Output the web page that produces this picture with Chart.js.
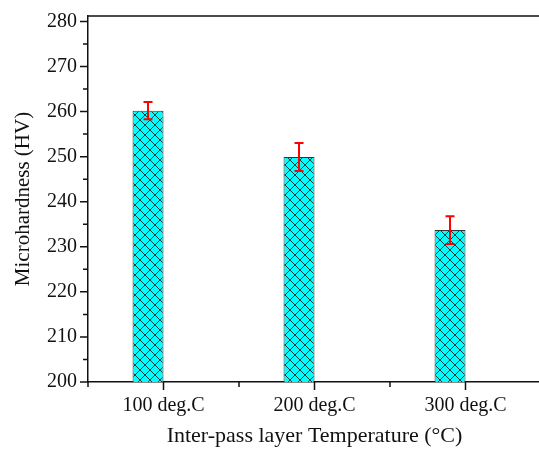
<!DOCTYPE html>
<html>
<head>
<meta charset="utf-8">
<script src="https://cdn.jsdelivr.net/npm/chart.js@4/dist/chart.umd.min.js"></script>
<style>
  html, body { margin:0; padding:0; overflow:hidden; background:#fff; }
  #wrap { width:548px; height:449px; }
</style>
</head>
<body>
<div id="wrap"><canvas id="chart"></canvas></div>
<script>
// values
const temps = ['100 deg.C', '200 deg.C', '300 deg.C'];
const hardness = [260.2, 249.9, 233.7];
const hardnessErr = [1.9, 3.1, 3.1];
const yMajor = [200, 210, 220, 230, 240, 250, 260, 270, 280];
const yMinor = [205, 215, 225, 235, 245, 255, 265, 275];

const serif = 'Liberation Serif, Times New Roman, serif';

// cyan crosshatch fill
function hatch() {
  const c = document.createElement('canvas');
  c.width = 10; c.height = 10;
  const g = c.getContext('2d');
  g.fillStyle = '#00ffff';
  g.fillRect(0, 0, 10, 10);
  g.strokeStyle = '#1b3d3d';
  g.lineWidth = 1;
  g.beginPath();
  g.moveTo(-1, -1); g.lineTo(11, 11);
  g.moveTo(-1, 11); g.lineTo(11, -1);
  g.stroke();
  return g.createPattern(c, 'repeat');
}

// red error bars on top of the bars
const errBars = {
  id: 'errBars',
  afterDatasetsDraw(chart) {
    const meta = chart.getDatasetMeta(0);
    const y = chart.scales.y;
    const ctx = chart.ctx;
    ctx.save();
    ctx.strokeStyle = '#ff0000';
    ctx.lineWidth = 2;
    meta.data.forEach((bar, i) => {
      const top = y.getPixelForValue(hardness[i] + hardnessErr[i]);
      const bot = y.getPixelForValue(hardness[i] - hardnessErr[i]);
      ctx.beginPath();
      ctx.moveTo(bar.x, top); ctx.lineTo(bar.x, bot);
      ctx.moveTo(bar.x - 4.5, top); ctx.lineTo(bar.x + 4.5, top);
      ctx.moveTo(bar.x - 4.5, bot); ctx.lineTo(bar.x + 4.5, bot);
      ctx.stroke();
    });
    ctx.restore();
  }
};

// Origin style frame: outward major/minor ticks + top border
const frame = {
  id: 'frame',
  afterDraw(chart) {
    const {ctx, chartArea: a, scales: {x, y}} = chart;
    ctx.save();
    ctx.strokeStyle = '#111';
    ctx.lineWidth = 1.5;
    ctx.beginPath();
    ctx.moveTo(a.left, a.top); ctx.lineTo(a.right, a.top);
    yMajor.forEach(v => { const p = y.getPixelForValue(v); ctx.moveTo(a.left - 8, p); ctx.lineTo(a.left, p); });
    yMinor.forEach(v => { const p = y.getPixelForValue(v); ctx.moveTo(a.left - 5, p); ctx.lineTo(a.left, p); });
    const w = (a.right - a.left) / temps.length;
    temps.forEach((t, i) => {
      const p = x.getPixelForValue(i);
      ctx.moveTo(p, a.bottom); ctx.lineTo(p, a.bottom + 8);
      const b = a.left + i * w;
      ctx.moveTo(b, a.bottom); ctx.lineTo(b, a.bottom + 5);
    });
    ctx.stroke();
    ctx.restore();
  }
};

new Chart(document.getElementById('chart'), {
  type: 'bar',
  data: {
    labels: temps,
    datasets: [
      { data: hardness, backgroundColor: hatch(), borderColor: '#333', borderWidth: 1,
        barPercentage: 1, categoryPercentage: 0.41 },
      { data: temps.map(() => null), barPercentage: 1, categoryPercentage: 0.41 }
    ]
  },
  options: {
    responsive: true,
    maintainAspectRatio: false,
    animation: false,
    layout: { padding: { left: 0, right: 7, top: 16, bottom: 0 } },
    plugins: { legend: { display: false }, tooltip: { enabled: false } },
    scales: {
      x: {
        grid: { display: false, drawTicks: false },
        border: { display: true, color: '#111', width: 1.5 },
        ticks: { color: '#111', padding: 12, maxRotation: 0, font: { family: serif, size: 20 } },
        title: { display: true, text: 'Inter-pass layer Temperature (°C)', color: '#111',
                 padding: { top: 0, bottom: 0 }, font: { family: serif, size: 22 } },
        afterFit(s) { s.height = 67; s.paddingLeft = 0; s.paddingRight = 0; }
      },
      y: {
        min: 200, max: 281.2,
        grid: { display: false, drawTicks: false },
        border: { display: true, color: '#111', width: 1.5 },
        ticks: { stepSize: 10, includeBounds: false, color: '#111', padding: 11,
                 font: { family: serif, size: 20 } },
        title: { display: true, text: 'Microhardness (HV)', color: '#111',
                 padding: { top: 11, bottom: 0 }, font: { family: serif, size: 21 } },
        afterFit(s) { s.width = 88; s.paddingTop = 0; s.paddingBottom = 0; }
      }
    }
  },
  plugins: [errBars, frame]
});
</script>
</body>
</html>
